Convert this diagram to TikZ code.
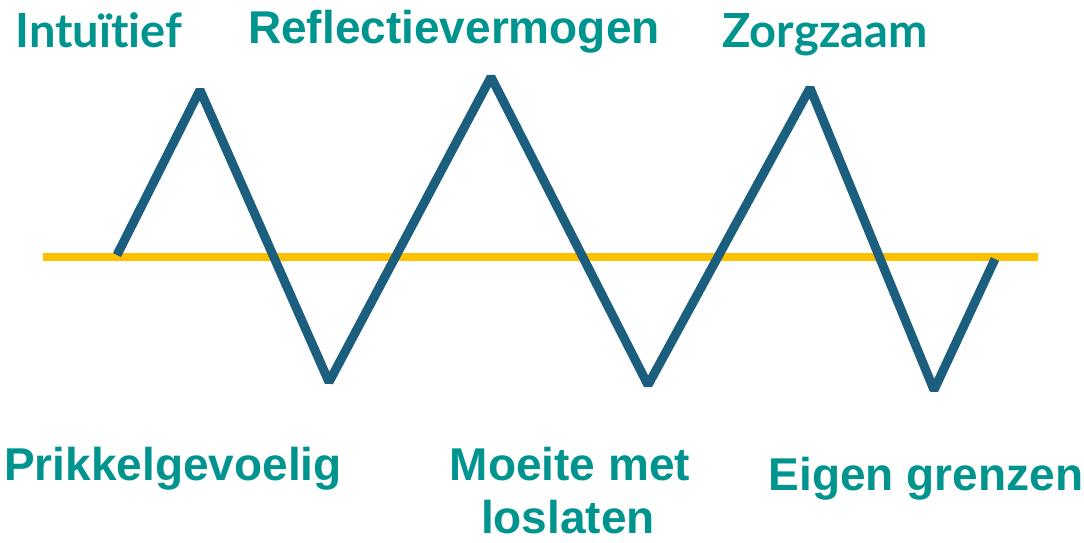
\documentclass[tikz,border=0pt]{standalone}
\usepackage{fontspec}
\setmainfont{Liberation Sans}
\newfontfamily\latofont[Ligatures=NoCommon]{Lato}
\definecolor{wave}{HTML}{1B5E7E}
\definecolor{axis}{HTML}{FFC000}
\definecolor{label}{HTML}{00948F}

\begin{document}
\begin{tikzpicture}[x=1pt, y=-1pt,
    trait/.style={anchor=base, text=label, font=\fontsize{46}{52}\selectfont\bfseries, inner sep=0pt},
    traitlato/.style={trait, font=\fontsize{47}{52}\selectfont\latofont\bfseries}]
  \useasboundingbox (0, 0) rectangle (1084, 542);

  % Balance line
  \coordinate (axisL) at (43, 257);
  \coordinate (axisR) at (1038, 257);
  \draw[line width=8pt, draw=axis] (axisL) -- (axisR);

  % Zigzag points
  \coordinate (z0) at (117, 255);
  \coordinate (z1) at (200, 90);
  \coordinate (z2) at (329, 382);
  \coordinate (z3) at (491, 77);
  \coordinate (z4) at (648, 385);
  \coordinate (z5) at (810, 88);
  \coordinate (z6) at (934, 390);
  \coordinate (z7) at (995, 259);
  \draw[line width=9pt, draw=wave, line join=bevel]
    (z0) -- (z1) -- (z2) -- (z3) -- (z4) -- (z5) -- (z6) -- (z7);

  % Upper labels
  \node[traitlato] (intuitief) at (99, 47) {Intuïtief};
  \node[trait] (reflectie) at (454, 43) {Reflectievermogen};
  \node[traitlato] (zorgzaam) at (825, 47) {Zorgzaam};

  % Lower labels
  \node[trait] (prikkel) at (173, 480) {Prikkelgevoelig};
  \node[trait] (moeite) at (570, 480) {Moeite met};
  \node[trait] (loslaten) at (568, 533) {loslaten};
  \node[trait] (grenzen) at (926, 490) {Eigen grenzen};
\end{tikzpicture}
\end{document}
